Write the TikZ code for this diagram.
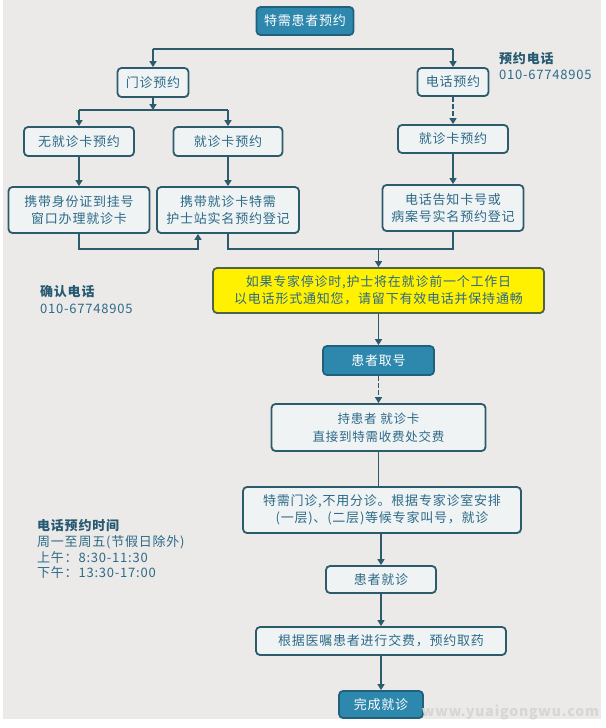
\documentclass[tikz,border=0pt]{standalone}
\usepackage{fontspec}
\setmainfont{Noto Sans CJK SC}[LetterSpace=6]
\usetikzlibrary{arrows.meta,calc}
\definecolor{bg}{HTML}{EBEAE8}
\definecolor{edge}{HTML}{2C5B6B}
\definecolor{txt}{HTML}{2D6A88}
\definecolor{head}{HTML}{275A72}
\definecolor{boxfill}{HTML}{EFF3F4}
\definecolor{tealfill}{HTML}{2E87AC}
\definecolor{tealedge}{HTML}{22617C}
\definecolor{yel}{HTML}{FFF100}
\definecolor{yeledge}{HTML}{4E6448}
\definecolor{wm}{HTML}{D6D6D4}
\tikzset{
  box/.style={draw=edge, line width=1.8pt, rounded corners=4pt, fill=boxfill, text=txt,
    inner sep=0pt, align=center, font=\fontsize{13}{17}\selectfont},
  tealbox/.style={box, fill=tealfill, draw=tealedge, text=white},
  yellowbox/.style={box, fill=yel, draw=yeledge},
  conn/.style={draw=edge, line width=1.8pt},
  arr/.style={conn, -{Triangle[length=6pt,width=7pt]}},
  dasharr/.style={arr, dash pattern=on 5pt off 2pt},
  side/.style={text=txt, anchor=west, inner sep=0pt, font=\fontsize{13}{15}\selectfont},
  sidehead/.style={side, text=head, font=\fontsize{13}{15}\selectfont\bfseries},
}
\begin{document}
\begin{tikzpicture}[x=1pt,y=-1pt]
\useasboundingbox (0,0) rectangle (605,728);
\fill[white] (0,0) rectangle (605,728);
\fill[bg] (3,0) rectangle (601,719);

% nodes
\node[tealbox, minimum width=97pt, minimum height=28pt] (title) at (305,21) {特需患者预约};
\node[box, minimum width=71pt, minimum height=29pt] (mz) at (153,82.5) {门诊预约};
\node[box, minimum width=71pt, minimum height=28pt] (dh) at (453,82) {电话预约};
\node[box, minimum width=110pt, minimum height=29pt] (wk) at (79,141.5) {无就诊卡预约};
\node[box, minimum width=109pt, minimum height=29pt] (jk) at (228,141.5) {就诊卡预约};
\node[box, minimum width=110pt, minimum height=28pt] (jk2) at (453,139) {就诊卡预约};
\node[box, minimum width=141pt, minimum height=46pt] (sf) at (79,210) {携带身份证到挂号\\窗口办理就诊卡};
\node[box, minimum width=142pt, minimum height=46pt] (hs) at (228,210) {携带就诊卡特需\\护士站实名预约登记};
\node[box, minimum width=141pt, minimum height=46pt] (dg) at (453,208) {电话告知卡号或\\病案号实名预约登记};
\node[yellowbox, minimum width=331pt, minimum height=45pt] (yl) at (378.5,290.5)
  {如果专家停诊时,护士将在就诊前一个工作日\\以电话形式通知您，请留下有效电话并保持通畅};
\node[tealbox, minimum width=111pt, minimum height=29pt] (qh) at (378.5,360.5) {患者取号};
\node[box, minimum width=214pt, minimum height=47pt, font=\fontsize{12.5}{18}\selectfont] (cz) at (378.5,427.5)
  {持患者 就诊卡\\直接到特需收费处交费};
\node[box, minimum width=278pt, minimum height=46pt] (tx) at (382,510)
  {特需门诊,不用分诊。根据专家诊室安排\\(一层)、(二层)等候专家叫号，就诊};
\node[box, minimum width=110pt, minimum height=27pt] (jz) at (381,579.5) {患者就诊};
\node[box, minimum width=250pt, minimum height=28pt] (yz) at (381,641) {根据医嘱患者进行交费，预约取药};
\node[tealbox, minimum width=84pt, minimum height=27pt] (wc) at (381,704.5) {完成就诊};

% side texts
\node[sidehead] (t1) at (499,59) {预约电话};
\node[side] (t2) at (499,75) {010-67748905};
\node[sidehead] (t3) at (40,292) {确认电话};
\node[side] (t4) at (40,309) {010-67748905};
\node[sidehead] (t5) at (37,526) {电话预约时间};
\node[side] (t6) at (37,542) {周一至周五(节假日除外)};
\node[side] (t7) at (37,558) {上午：8:30-11:30};
\node[side] (t8) at (37,573) {下午：13:30-17:00};
\node[text=wm, anchor=east, inner sep=0pt, font=\fontsize{14}{14}\selectfont\bfseries] (wmk) at (599,712) {www.yuaigongwu.com};

% connectors
\coordinate (b1) at (0,49);
\draw[conn] (b1 -| mz) -- (b1 -| dh);
\draw[arr] (b1 -| mz) -- (mz.north);
\draw[arr] (b1 -| dh) -- (dh.north);
\coordinate (b2) at (0,110);
\draw[arr] (mz.south) -- (b2 -| mz);
\draw[conn] (b2 -| wk) -- (b2 -| jk);
\draw[arr] (b2 -| wk) -- (wk.north);
\draw[arr] (b2 -| jk) -- (jk.north);
\draw[dasharr] (dh.south) -- (jk2.north);
\draw[arr] (wk.south) -- (sf.north);
\draw[arr] (jk.south) -- (hs.north);
\draw[arr] (jk2.south) -- (dg.north);
\coordinate (b3) at (0,249);
\coordinate (m3) at (198,0);
\draw[arr] (sf.south) -- (sf.south |- b3) -- (b3 -| m3) -- (m3 |- hs.south);
\draw[conn] (hs.south) -- (hs.south |- b3) -- (dg.south |- b3) -- (dg.south);
\draw[arr] (b3 -| yl) -- (yl.north);
\draw[arr] (yl.south) -- (qh.north);
\draw[dasharr] (qh.south) -- (cz.north);
\draw[conn] (cz.south) -- (cz.south |- tx.north);
\draw[arr] (tx.south -| jz) -- (jz.north);
\draw[arr] (jz.south) -- (yz.north);
\draw[arr] (yz.south) -- (wc.north);
\end{tikzpicture}
\end{document}
